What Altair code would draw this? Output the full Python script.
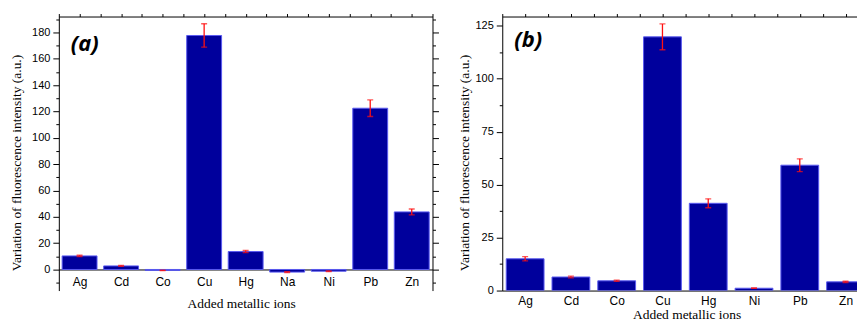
import altair as alt
import pandas as pd

# ---------------- data ----------------
ions_a = ["Ag", "Cd", "Co", "Cu", "Hg", "Na", "Ni", "Pb", "Zn"]
vals_a = [10.3, 2.7, -0.7, 177.6, 13.6, -2.0, -1.3, 122.4, 43.7]
errs_a = [0.5, 0.4, 0.2, 8.9, 0.8, 0.3, 0.3, 6.3, 2.2]

ions_b = ["Ag", "Cd", "Co", "Cu", "Hg", "Ni", "Pb", "Zn"]
vals_b = [15.0, 6.4, 4.6, 119.8, 41.2, 1.1, 59.2, 4.1]
errs_b = [1.0, 0.4, 0.3, 6.1, 2.1, 0.1, 3.0, 0.3]

ylim_a = [-16, 192]
ylim_b = [0, 129.4]
yticks_a = [-10, 0, 10, 20, 30, 40, 50, 60, 70, 80, 90, 100, 110, 120, 130,
            140, 150, 160, 170, 180, 190]
yticks_b = [0, 12.5, 25, 37.5, 50, 62.5, 75, 87.5, 100, 112.5, 125]

# visible x extent (in category units); panel (b) is cut at its right edge
xlim_a = [-0.5, 8.5]
xlim_b = [-0.5, 7.25]

ytitle = "Variation of fluorescence intensity (a.u.)"
xtitle = "Added metallic ions"

BAR = "#00009c"
EDGE = "#5a5af0"
ERR = "#ff1010"
SANS = "Liberation Sans"
SERIF = "Liberation Serif"


def panel(ions, vals, errs, ylim, yticks, xlim, major, label, label_y, W, H, halfw,
          ytitle_pad, xlab_pad, xtitle_pad, xtitle_x, mirror_right):
    n = len(ions)
    df = pd.DataFrame({"ion": ions, "v": vals, "e": errs, "i": list(range(n))})
    base = alt.Chart(df).transform_calculate(
        x0=f"datum.i - {halfw}", x1=f"datum.i + {halfw}",
        lo="datum.v - datum.e", hi="datum.v + datum.e")
    xs = alt.Scale(domain=xlim, nice=False, zero=False)
    ys = alt.Scale(domain=ylim, nice=False, zero=False)
    names = "[" + ",".join(f"'{s}'" for s in ions) + "]"
    offset = -(0 - ylim[0]) / (ylim[1] - ylim[0]) * H
    tick_cond = {"condition": {"test": f"datum.value % {major} === 0", "value": 6},
                 "value": 3}

    xaxis_bottom = alt.Axis(
        orient="bottom", values=list(range(n)), labelExpr=f"{names}[datum.value]",
        ticks=False, grid=False, domain=True, domainColor="black", domainWidth=1,
        offset=offset, labelFont=SANS, labelFontSize=12, labelColor="black",
        labelPadding=xlab_pad, title=xtitle, titleFont=SERIF, titleFontSize=13.5,
        titleFontWeight="normal", titleColor="black", titlePadding=xtitle_pad,
        titleX=xtitle_x)
    yaxis_left = alt.Axis(
        orient="left", values=yticks, grid=False, domain=True, domainColor="black",
        tickColor="black", tickSize=tick_cond,
        labelExpr=f"(datum.value % {major} === 0 && datum.value >= 0) ? datum.label : ''",
        labelFont=SANS, labelFontSize=11, labelColor="black", labelPadding=3,
        title=ytitle, titleFont=SERIF, titleFontSize=13.5, titleFontWeight="normal",
        titleColor="black", titlePadding=ytitle_pad, titleY=H / 2 + 9)
    half_ticks = [k / 2 - 0.5 for k in range(2 * n + 1) if k / 2 - 0.5 <= xlim[1]]
    xaxis_top = alt.Axis(
        orient="top", values=half_ticks, labels=False, grid=False, domain=True,
        domainColor="black", tickColor="black", tickSize=3, title=None)
    if mirror_right:
        yaxis_right = alt.Axis(
            orient="right", values=yticks, labels=False, grid=False, domain=True,
            domainColor="black", tickColor="black", tickSize=tick_cond, title=None)
    else:
        yaxis_right = None

    bars = base.mark_bar(fill=BAR, stroke=EDGE, strokeWidth=1, clip=True).encode(
        x=alt.X("x0:Q", scale=xs, axis=xaxis_bottom),
        x2="x1:Q",
        y=alt.Y("v:Q", scale=ys, axis=yaxis_left),
        y2=alt.datum(0),
    )
    rules = base.mark_rule(color=ERR, strokeWidth=1.3, clip=True).encode(
        x=alt.X("i:Q", scale=xs, axis=xaxis_top),
        y=alt.Y("lo:Q", scale=ys, axis=yaxis_right),
        y2="hi:Q",
    )
    cap_hi = base.mark_tick(orient="horizontal", size=6, thickness=1.3, color=ERR,
                            clip=True).encode(
        x=alt.X("i:Q", scale=xs, axis=None),
        y=alt.Y("hi:Q", scale=ys, axis=None),
    )
    cap_lo = base.mark_tick(orient="horizontal", size=6, thickness=1.3, color=ERR,
                            clip=True).encode(
        x=alt.X("i:Q", scale=xs, axis=None),
        y=alt.Y("lo:Q", scale=ys, axis=None),
    )
    tag = alt.Chart(pd.DataFrame({"t": [label]})).mark_text(
        font="Open Sans", fontSize=22, fontWeight="bold", fontStyle="italic",
        align="left", baseline="middle", color="black").encode(
        x=alt.value(12), y=alt.value(label_y), text="t:N")

    return alt.layer(bars, rules, cap_hi, cap_lo, tag).resolve_axis(
        x="independent", y="independent").properties(width=W, height=H)


left = panel(ions_a, vals_a, errs_a, ylim_a, yticks_a, xlim_a, 20, "(a)", 28, 375, 275,
             0.42, 8, 7, 9, 183, True)
right = panel(ions_b, vals_b, errs_b, ylim_b, yticks_b, xlim_b, 25, "(b)", 23.5, 356, 275,
              0.413, 4, 5, 1, 185, False)

chart = alt.hconcat(left, right, spacing=17).configure_view(stroke=None).properties(
    padding={"left": 1, "top": 4, "right": 0, "bottom": 0})

chart.save("out.html", embed_options={"renderer": "svg", "actions": False})
